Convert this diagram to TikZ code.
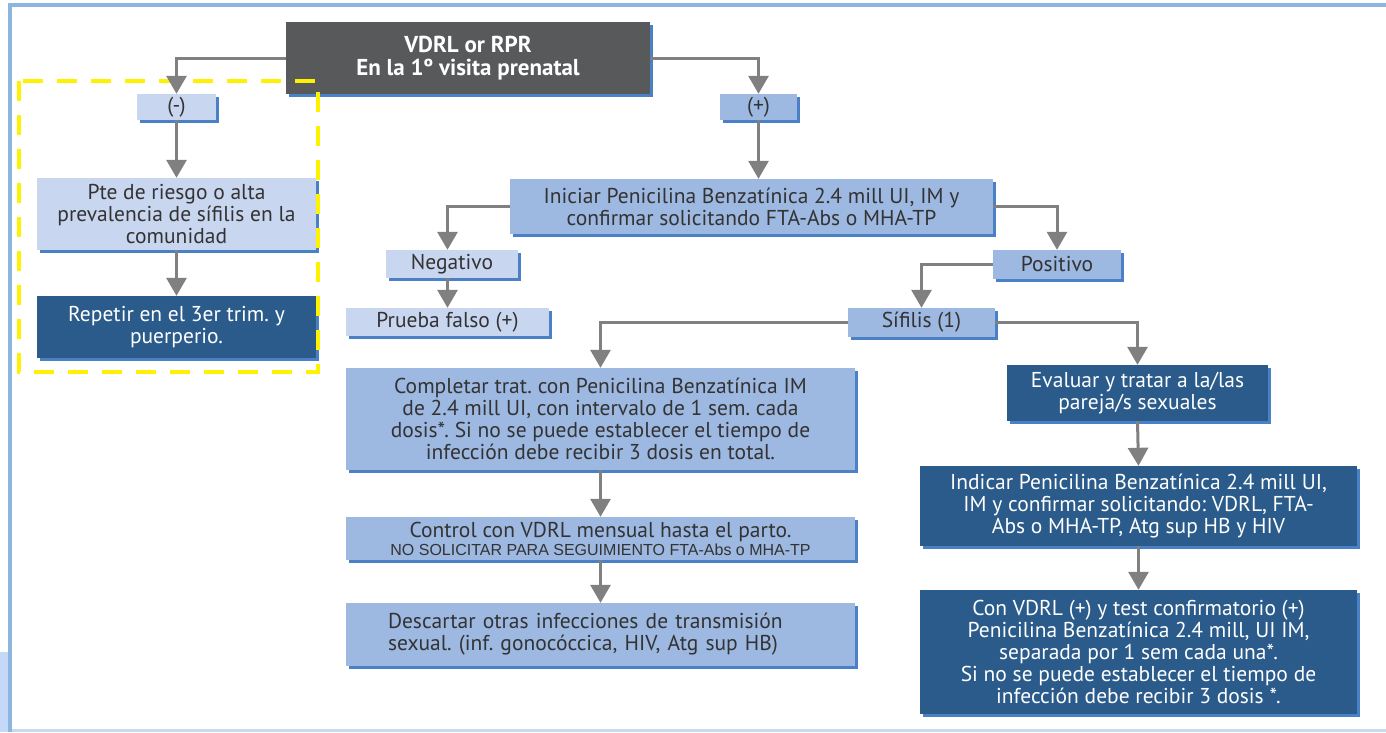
\documentclass[tikz,border=0pt]{standalone}
\usepackage{fontspec}
\setmainfont{PT Sans}
\newfontfamily\smallarial{Liberation Sans}
\usetikzlibrary{arrows.meta,shadows,calc}
\definecolor{frameblue}{HTML}{8DB6DE}
\definecolor{paleblue}{HTML}{C6D8F8}
\definecolor{lightfill}{HTML}{C9D6EF}
\definecolor{midfill}{HTML}{9DB8E1}
\definecolor{darkfill}{HTML}{2A5B8A}
\definecolor{grayfill}{HTML}{58595B}
\definecolor{shb}{HTML}{4A80C6}
\definecolor{conn}{HTML}{808080}
\definecolor{txt}{HTML}{333333}
\definecolor{dashyellow}{HTML}{FFF200}
\frenchspacing
\tikzset{
  box/.style={draw=none, inner sep=0pt, align=center, font=\fontsize{21.5}{22}\selectfont,
    drop shadow={shadow xshift=2.5pt, shadow yshift=-2.5pt, opacity=1, fill=shb}},
  lightbox/.style={box, fill=lightfill, text=txt},
  midbox/.style={box, fill=midfill, text=txt},
  darkbox/.style={box, fill=darkfill, text=white},
  graybox/.style={box, fill=grayfill, text=white, font=\fontsize{23}{22.5}\selectfont\bfseries},
  arr/.style={draw=conn, line width=3pt, -{Triangle[width=20pt,length=18pt]}},
}
\begin{document}
\begin{tikzpicture}[x=1pt,y=-1pt]
\useasboundingbox (0,0) rectangle (1386,732);
\fill[white] (0,0) rectangle (1386,732);
% frame
\fill[paleblue] (0,652) rectangle (8,732);
\fill[frameblue] (8,3) rectangle (1386,7);
\fill[frameblue] (8,3) rectangle (12,732);
\fill[frameblue!50] (12,729) rectangle (1386,732);

% nodes
\node[graybox, minimum width=364, minimum height=72] (vdrl) at (468,58) {VDRL or RPR\\En la 1º visita prenatal};
\node[lightbox, minimum width=79, minimum height=26] (neg0) at (176.5,107) {(-)};
\node[midbox, minimum width=77, minimum height=26] (pos0) at (758.5,107) {(+)};
\node[lightbox, minimum width=279, minimum height=72] (pte) at (176.5,214) {Pte de riesgo o alta\\prevalencia de sífilis en la\\comunidad};
\node[darkbox, minimum width=279, minimum height=62] (rep) at (176.5,327) {Repetir en el 3er trim. y\\puerperio.};
\node[midbox, minimum width=483, minimum height=55] (ini) at (751.5,206.5) {Iniciar Penicilina Benzatínica 2.4 mill UI, IM y\\confirmar solicitando FTA-Abs o MHA-TP};
\node[lightbox, minimum width=132, minimum height=28] (negat) at (452,264) {Negativo};
\node[lightbox, minimum width=203, minimum height=28] (prueba) at (447.5,322) {Prueba falso (+)};
\node[midbox, minimum width=128, minimum height=29] (posit) at (1057,264.5) {Positivo};
\node[midbox, minimum width=147, minimum height=29] (sif) at (921.5,322.5) {Sífilis (1)};
\node[midbox, minimum width=509, minimum height=102] (comp) at (600.5,419) {Completar trat. con Penicilina Benzatínica IM\\de 2.4 mill UI, con intervalo de 1 sem. cada\\dosis*. Si no se puede establecer el tiempo de\\infección debe recibir 3 dosis en total.};
\node[midbox, minimum width=509, minimum height=43] (ctrl) at (600.5,538.5) {Control con VDRL mensual hasta el parto.\\[-4pt]{\smallarial\fontsize{16}{16}\selectfont NO SOLICITAR PARA SEGUIMIENTO FTA-Abs o MHA-TP}};
\node[midbox, minimum width=509, minimum height=63, align=left, text width=425] (desc) at (600.5,634.5) {Descartar otras infecciones de transmisión\\sexual. (inf. gonocóccica, HIV, Atg sup HB)};
\node[darkbox, minimum width=261, minimum height=56] (eval) at (1137.5,393) {Evaluar y tratar a la/las\\pareja/s sexuales};
\node[darkbox, minimum width=437, minimum height=80] (indi) at (1138.5,506) {Indicar Penicilina Benzatínica 2.4 mill UI,\\IM y confirmar solicitando: VDRL, FTA-\\Abs o MHA-TP, Atg sup HB y HIV};
\node[darkbox, minimum width=437, minimum height=124] (conv) at (1138.5,652) {Con VDRL (+) y test confirmatorio (+)\\Penicilina Benzatínica 2.4 mill, UI IM,\\separada por 1 sem cada una*.\\Si no se puede establecer el tiempo de\\infección debe recibir 3 dosis *.};

% yellow dashed region
\draw[dashyellow, line width=4.5pt, dash pattern=on 20pt off 14pt] (19,81) rectangle (318,372);

% connectors
\draw[arr] (vdrl.west) -| (neg0.north);
\draw[arr] (vdrl.east) -| (pos0.north);
\draw[arr] (neg0.south) -- (pte.north);
\draw[arr] (pte.south) -- (rep.north);
\draw[arr] (pos0.south) -- (pos0.south |- ini.north);
\draw[arr] (ini.west) -| (prueba.north |- negat.north);
\draw[arr] (ini.east) -| (posit.north);
\draw[arr] (prueba.north |- negat.south) -- (prueba.north);
\draw[arr] (posit.west) -| (sif.north);
\draw[arr] (sif.west) -| (comp.north);
\draw[arr] (sif.east) -| (eval.north);
\draw[arr] (comp.south) -- (ctrl.north);
\draw[arr] (ctrl.south) -- (desc.north);
\draw[arr] (eval.south) -- (indi.north);
\draw[arr] (indi.south) -- (conv.north);
\end{tikzpicture}
\end{document}
